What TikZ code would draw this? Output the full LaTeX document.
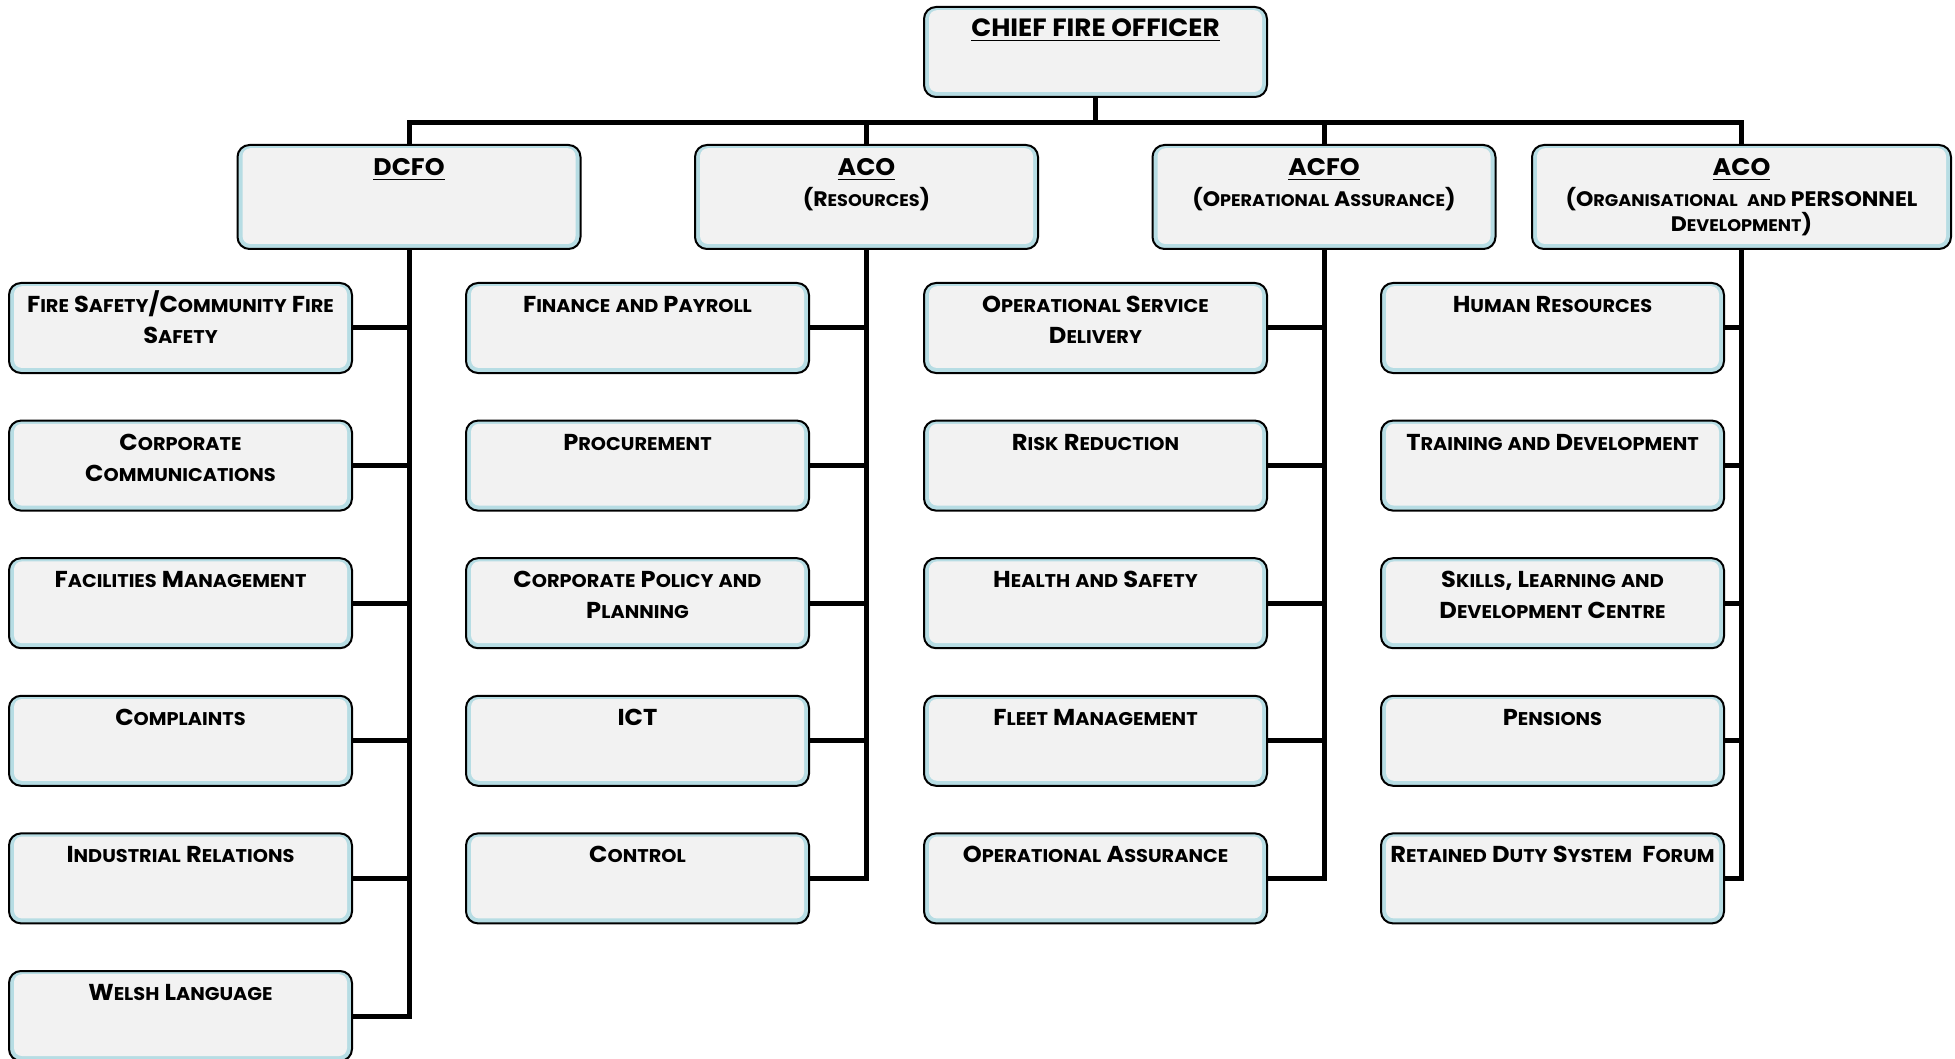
\documentclass[tikz,border=0pt]{standalone}
\usepackage{fontspec}
\setmainfont{Poppins}[FakeStretch=1.05]
\makeatletter
\newcommand\sm[1]{{\fontsize{\fpeval{0.8*\f@size}}{\f@baselineskip}\selectfont #1}}
\makeatother
\definecolor{band}{HTML}{B7DDE4}
\definecolor{boxgray}{HTML}{F2F2F2}
\begin{document}
\begin{tikzpicture}[x=0.5pt,y=-0.5pt,
  obox/.style={draw=black, line width=1pt, rounded corners=6pt, fill=band,
    minimum width=171.5pt, minimum height=45pt, inner sep=0pt,
    path picture={\fill[boxgray, rounded corners=4pt]
      ([xshift=2.5pt,yshift=2.5pt]path picture bounding box.south west) rectangle
      ([xshift=-2.5pt,yshift=-1.6pt]path picture bounding box.north east);}},
  hbox/.style={obox, minimum height=52pt},
  ctext/.style={anchor=north, inner sep=0pt, align=center,
    font=\bfseries\fontsize{11.5}{15.5}\selectfont},
  ttext/.style={anchor=base, inner sep=0pt, font=\bfseries\fontsize{12}{14}\selectfont},
  stext/.style={anchor=north, inner sep=0pt, align=center,
    font=\bfseries\fontsize{10.5}{10.5}\selectfont},
  conn/.style={line width=2.5pt, line join=miter}]
\useasboundingbox (0,0) rectangle (1955,1059);
\clip (0,0) rectangle (1955,1059);

% top
\node[obox] (cfo) at (1095.5,52) {};
\node[ttext, font=\bfseries\fontsize{12.5}{15}\selectfont] (cfot) at ([yshift=-15.5pt]cfo.north) {\underline{CHIEF FIRE OFFICER}};

% level 2
\node[hbox] (dcfo) at (409,197) {};
\node[hbox] (aco) at (866.5,197) {};
\node[hbox] (acfo) at (1324,197) {};
\node[hbox, minimum width=209.5pt] (aco2) at (1741.5,197) {};
\node[ttext] (dcfot) at ([yshift=-16pt]dcfo.north) {\underline{DCFO}};
\node[ttext] (acot) at ([yshift=-16pt]aco.north) {\underline{ACO}};
\node[ttext] (acfot) at ([yshift=-16pt]acfo.north) {\underline{ACFO}};
\node[ttext] (aco2t) at ([yshift=-16pt]aco2.north) {\underline{ACO}};
\node[stext] (acos) at ([yshift=-21pt]aco.north) {\rule{0pt}{10pt}(R\sm{ESOURCES})};
\node[stext] (acfos) at ([yshift=-21pt]acfo.north) {\rule{0pt}{10pt}(O\sm{PERATIONAL} A\sm{SSURANCE})};
\node[stext] (aco2s) at ([yshift=-21pt]aco2.north) {\rule{0pt}{10pt}(O\sm{RGANISATIONAL}\ \ \sm{AND} PERSONNEL\\D\sm{EVELOPMENT})};

% column 1
\node[obox] (c11) at (180.5,328) {};
\node[obox] (c12) at (180.5,465.6) {};
\node[obox] (c13) at (180.5,603.2) {};
\node[obox] (c14) at (180.5,740.8) {};
\node[obox] (c15) at (180.5,878.4) {};
\node[obox] (c16) at (180.5,1016) {};
% column 2
\node[obox] (c21) at (637.5,328) {};
\node[obox] (c22) at (637.5,465.6) {};
\node[obox] (c23) at (637.5,603.2) {};
\node[obox] (c24) at (637.5,740.8) {};
\node[obox] (c25) at (637.5,878.4) {};
% column 3
\node[obox] (c31) at (1095.5,328) {};
\node[obox] (c32) at (1095.5,465.6) {};
\node[obox] (c33) at (1095.5,603.2) {};
\node[obox] (c34) at (1095.5,740.8) {};
\node[obox] (c35) at (1095.5,878.4) {};
% column 4
\node[obox] (c41) at (1552.5,328) {};
\node[obox] (c42) at (1552.5,465.6) {};
\node[obox] (c43) at (1552.5,603.2) {};
\node[obox] (c44) at (1552.5,740.8) {};
\node[obox] (c45) at (1552.5,878.4) {};

% texts
\node[ctext] (t11) at ([yshift=-3pt]c11.north) {\rule{0pt}{12pt}F\sm{IRE} S\sm{AFETY}/C\sm{OMMUNITY} F\sm{IRE}\\S\sm{AFETY}};
\node[ctext] (t12) at ([yshift=-3pt]c12.north) {\rule{0pt}{12pt}C\sm{ORPORATE}\\C\sm{OMMUNICATIONS}};
\node[ctext] (t13) at ([yshift=-3pt]c13.north) {\rule{0pt}{12pt}F\sm{ACILITIES} M\sm{ANAGEMENT}};
\node[ctext] (t14) at ([yshift=-3pt]c14.north) {\rule{0pt}{12pt}C\sm{OMPLAINTS}};
\node[ctext] (t15) at ([yshift=-3pt]c15.north) {\rule{0pt}{12pt}I\sm{NDUSTRIAL} R\sm{ELATIONS}};
\node[ctext] (t16) at ([yshift=-3pt]c16.north) {\rule{0pt}{12pt}W\sm{ELSH} L\sm{ANGUAGE}};
\node[ctext] (t21) at ([yshift=-3pt]c21.north) {\rule{0pt}{12pt}F\sm{INANCE} \sm{AND} P\sm{AYROLL}};
\node[ctext] (t22) at ([yshift=-3pt]c22.north) {\rule{0pt}{12pt}P\sm{ROCUREMENT}};
\node[ctext] (t23) at ([yshift=-3pt]c23.north) {\rule{0pt}{12pt}C\sm{ORPORATE} P\sm{OLICY} \sm{AND}\\P\sm{LANNING}};
\node[ctext] (t24) at ([yshift=-3pt]c24.north) {\rule{0pt}{12pt}ICT};
\node[ctext] (t25) at ([yshift=-3pt]c25.north) {\rule{0pt}{12pt}C\sm{ONTROL}};
\node[ctext] (t31) at ([yshift=-3pt]c31.north) {\rule{0pt}{12pt}O\sm{PERATIONAL} S\sm{ERVICE}\\D\sm{ELIVERY}};
\node[ctext] (t32) at ([yshift=-3pt]c32.north) {\rule{0pt}{12pt}R\sm{ISK} R\sm{EDUCTION}};
\node[ctext] (t33) at ([yshift=-3pt]c33.north) {\rule{0pt}{12pt}H\sm{EALTH} \sm{AND} S\sm{AFETY}};
\node[ctext] (t34) at ([yshift=-3pt]c34.north) {\rule{0pt}{12pt}F\sm{LEET} M\sm{ANAGEMENT}};
\node[ctext] (t35) at ([yshift=-3pt]c35.north) {\rule{0pt}{12pt}O\sm{PERATIONAL} A\sm{SSURANCE}};
\node[ctext] (t41) at ([yshift=-3pt]c41.north) {\rule{0pt}{12pt}H\sm{UMAN} R\sm{ESOURCES}};
\node[ctext] (t42) at ([yshift=-3pt]c42.north) {\rule{0pt}{12pt}T\sm{RAINING} \sm{AND} D\sm{EVELOPMENT}};
\node[ctext] (t43) at ([yshift=-3pt]c43.north) {\rule{0pt}{12pt}S\sm{KILLS}, L\sm{EARNING} \sm{AND}\\D\sm{EVELOPMENT} C\sm{ENTRE}};
\node[ctext] (t44) at ([yshift=-3pt]c44.north) {\rule{0pt}{12pt}P\sm{ENSIONS}};
\node[ctext] (t45) at ([yshift=-3pt]c45.north) {\rule{0pt}{12pt}R\sm{ETAINED} D\sm{UTY} S\sm{YSTEM}\ \ F\sm{ORUM}};

% connectors
\coordinate (bus) at (0,123);
\draw[conn] (cfo.south) -- (cfo.south |- bus);
\draw[conn] (dcfo.north) -- (dcfo.north |- bus) -- (aco2.north |- bus) -- (aco2.north);
\draw[conn] (aco.north) -- (aco.north |- bus);
\draw[conn] (acfo.north) -- (acfo.north |- bus);

\draw[conn] (dcfo.south) |- (c16.east);
\foreach \i in {1,...,5} \draw[conn] (c1\i.east) -- (c1\i.east -| dcfo.south);
\draw[conn] (aco.south) |- (c25.east);
\foreach \i in {1,...,4} \draw[conn] (c2\i.east) -- (c2\i.east -| aco.south);
\draw[conn] (acfo.south) |- (c35.east);
\foreach \i in {1,...,4} \draw[conn] (c3\i.east) -- (c3\i.east -| acfo.south);
\draw[conn] (aco2.south) |- (c45.east);
\foreach \i in {1,...,4} \draw[conn] (c4\i.east) -- (c4\i.east -| aco2.south);
\end{tikzpicture}
\end{document}
